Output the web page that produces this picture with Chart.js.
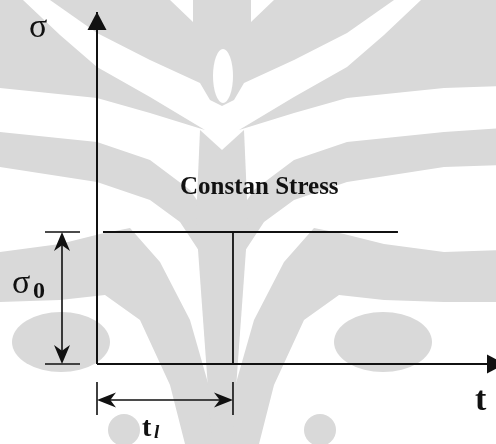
<!DOCTYPE html>
<html>
<head>
<meta charset="utf-8">
<script src="https://cdn.jsdelivr.net/npm/chart.js@4"></script>
<style>
  html, body { margin: 0; padding: 0; background: #fff; }
  canvas { display: block; }
</style>
</head>
<body>
<canvas id="creep" width="496" height="444"></canvas>
<script>
// load history: constant stress sigma0 held up to the loading time t_l
var loadTime = [0.044, 2.213];   // start / end of the stress line, in units of t_l
var loadStress = [1, 1];         // stress level, in units of sigma0
var tl = 1;                      // loading time t_l
var sigma0 = 1;                  // stress level sigma0
var tRange = [0, 2.934];         // time axis extent
var sigmaRange = [0, 2.667];     // stress axis extent

var stressPoints = loadTime.map(function (t, i) { return { x: t, y: loadStress[i] }; });

// faint background logo, left half; right half is mirrored about x = 222
var logoGrey = '#d9d9d9';
var logoAxis = 222;
var logoLeaves = [
    [[-60, 0], [23, 0], [60, 35], [97, 67], [150, 97], [205, 130], [150, 113], [97, 98], [0, 88], [-60, 86]],
    [[50, 0], [170, 0], [193, 22], [193, 0], [222, 0], [222, 106], [210, 100], [200, 83], [150, 60], [97, 33]],
    [[-60, 128], [0, 132], [97, 142], [150, 160], [190, 190], [212, 222], [222, 240], [222, 330], [205, 260], [180, 222], [150, 200], [97, 182], [0, 167], [-60, 165]],
    [[-60, 250], [0, 252], [60, 244], [100, 234], [130, 228], [160, 262], [190, 320], [210, 390], [218, 444], [185, 444], [170, 385], [140, 320], [105, 295], [60, 300], [0, 302], [-60, 302]],
    [[200, 130], [222, 150], [222, 444], [212, 444], [196, 222]]
];

var logoPlugin = {
    id: 'logo',
    beforeDraw: function (chart) {
        var c = chart.ctx;
        c.save();
        c.fillStyle = '#fff';
        c.fillRect(0, 0, chart.width, chart.height);
        c.fillStyle = logoGrey;
        [1, -1].forEach(function (side) {
            var mx = function (x) { return side === 1 ? x : 2 * logoAxis - x; };
            logoLeaves.forEach(function (leaf) {
                c.beginPath();
                leaf.forEach(function (p, i) {
                    if (i === 0) c.moveTo(mx(p[0]), p[1]); else c.lineTo(mx(p[0]), p[1]);
                });
                c.closePath();
                c.fill();
            });
            c.beginPath(); c.ellipse(mx(61), 342, 49, 30, 0, 0, Math.PI * 2); c.fill();
            c.beginPath(); c.arc(mx(124), 430, 16, 0, Math.PI * 2); c.fill();
        });
        // slit in the trunk
        c.fillStyle = '#fff';
        c.beginPath(); c.ellipse(223, 76, 10, 27, 0, 0, Math.PI * 2); c.fill();
        c.restore();
    }
};

function solidHead(c, x, y, ang, len, half) {
    c.save();
    c.translate(x, y); c.rotate(ang);
    c.beginPath();
    c.moveTo(0, 0); c.lineTo(-len, -half); c.lineTo(-len, half);
    c.closePath(); c.fill();
    c.restore();
}

function dimHead(c, x, y, ang, len, half) {
    c.save();
    c.translate(x, y); c.rotate(ang);
    c.beginPath();
    c.moveTo(0, 0); c.lineTo(-len, -half); c.lineTo(-len * 0.7, 0); c.lineTo(-len, half);
    c.closePath(); c.fill();
    c.restore();
}

var sketchPlugin = {
    id: 'sketch',
    afterDatasetsDraw: function (chart) {
        var c = chart.ctx;
        var xs = chart.scales.x, ys = chart.scales.y;
        var x0 = xs.getPixelForValue(0), x1 = xs.getPixelForValue(tl);
        var y0 = ys.getPixelForValue(0), y1 = ys.getPixelForValue(sigma0);
        c.save();
        c.fillStyle = '#111';
        c.strokeStyle = '#111';

        // axis arrows
        solidHead(c, x0, ys.getPixelForValue(sigmaRange[1]), -Math.PI / 2, 18, 9.5);
        solidHead(c, xs.getPixelForValue(tRange[1]) + 9, y0, 0, 18, 9.5);

        // sigma0 dimension
        c.lineWidth = 1.6;
        c.beginPath();
        c.moveTo(45, y1); c.lineTo(80, y1);
        c.moveTo(45, y0); c.lineTo(80, y0);
        c.moveTo(62, y1 + 4); c.lineTo(62, y0 - 4);
        c.stroke();
        dimHead(c, 62, y1, -Math.PI / 2, 19, 8);
        dimHead(c, 62, y0, Math.PI / 2, 19, 8);

        // t_l dimension
        c.beginPath();
        c.moveTo(x0, 382); c.lineTo(x0, 415);
        c.moveTo(x1, 382); c.lineTo(x1, 415);
        c.moveTo(x0 + 4, 400); c.lineTo(x1 - 4, 400);
        c.stroke();
        dimHead(c, x0, 400, Math.PI, 19, 7.5);
        dimHead(c, x1, 400, 0, 19, 7.5);

        // labels
        c.textBaseline = 'alphabetic';
        c.font = '34px "Liberation Serif"';
        c.fillText('σ', 29, 37);
        c.fillText('σ', 12, 293);
        c.font = 'bold 24px "Liberation Serif"';
        c.fillText('0', 33, 298);
        c.font = 'bold 34px "Liberation Serif"';
        c.fillText('t', 475, 410);
        c.font = 'bold 28px "Liberation Serif"';
        c.fillText('t', 142, 436);
        c.font = 'bold italic 19px "Liberation Serif"';
        c.fillText('l', 154, 438);
        c.font = 'bold 25px "Liberation Serif"';
        c.fillText('Constan Stress', 180, 194);
        c.restore();
    }
};

var lineStyle = { borderColor: '#111', pointRadius: 0, showLine: true, fill: false, clip: false };

new Chart(document.getElementById('creep'), {
    type: 'scatter',
    data: {
        datasets: [
            Object.assign({ data: [{ x: 0, y: 0 }, { x: 0, y: sigmaRange[1] }], borderWidth: 2 }, lineStyle),
            Object.assign({ data: [{ x: 0, y: 0 }, { x: tRange[1], y: 0 }], borderWidth: 2 }, lineStyle),
            Object.assign({ data: stressPoints, borderWidth: 1.8 }, lineStyle),
            Object.assign({ data: [{ x: tl, y: 0 }, { x: tl, y: sigma0 }], borderWidth: 1.8 }, lineStyle)
        ]
    },
    options: {
        responsive: false,
        animation: false,
        layout: { padding: { left: 97, right: 0, top: 12, bottom: 80 } },
        plugins: { legend: { display: false }, tooltip: { enabled: false } },
        scales: {
            x: { type: 'linear', display: false, min: tRange[0], max: tRange[1] },
            y: { type: 'linear', display: false, min: sigmaRange[0], max: sigmaRange[1] }
        }
    },
    plugins: [logoPlugin, sketchPlugin]
});
</script>
</body>
</html>
